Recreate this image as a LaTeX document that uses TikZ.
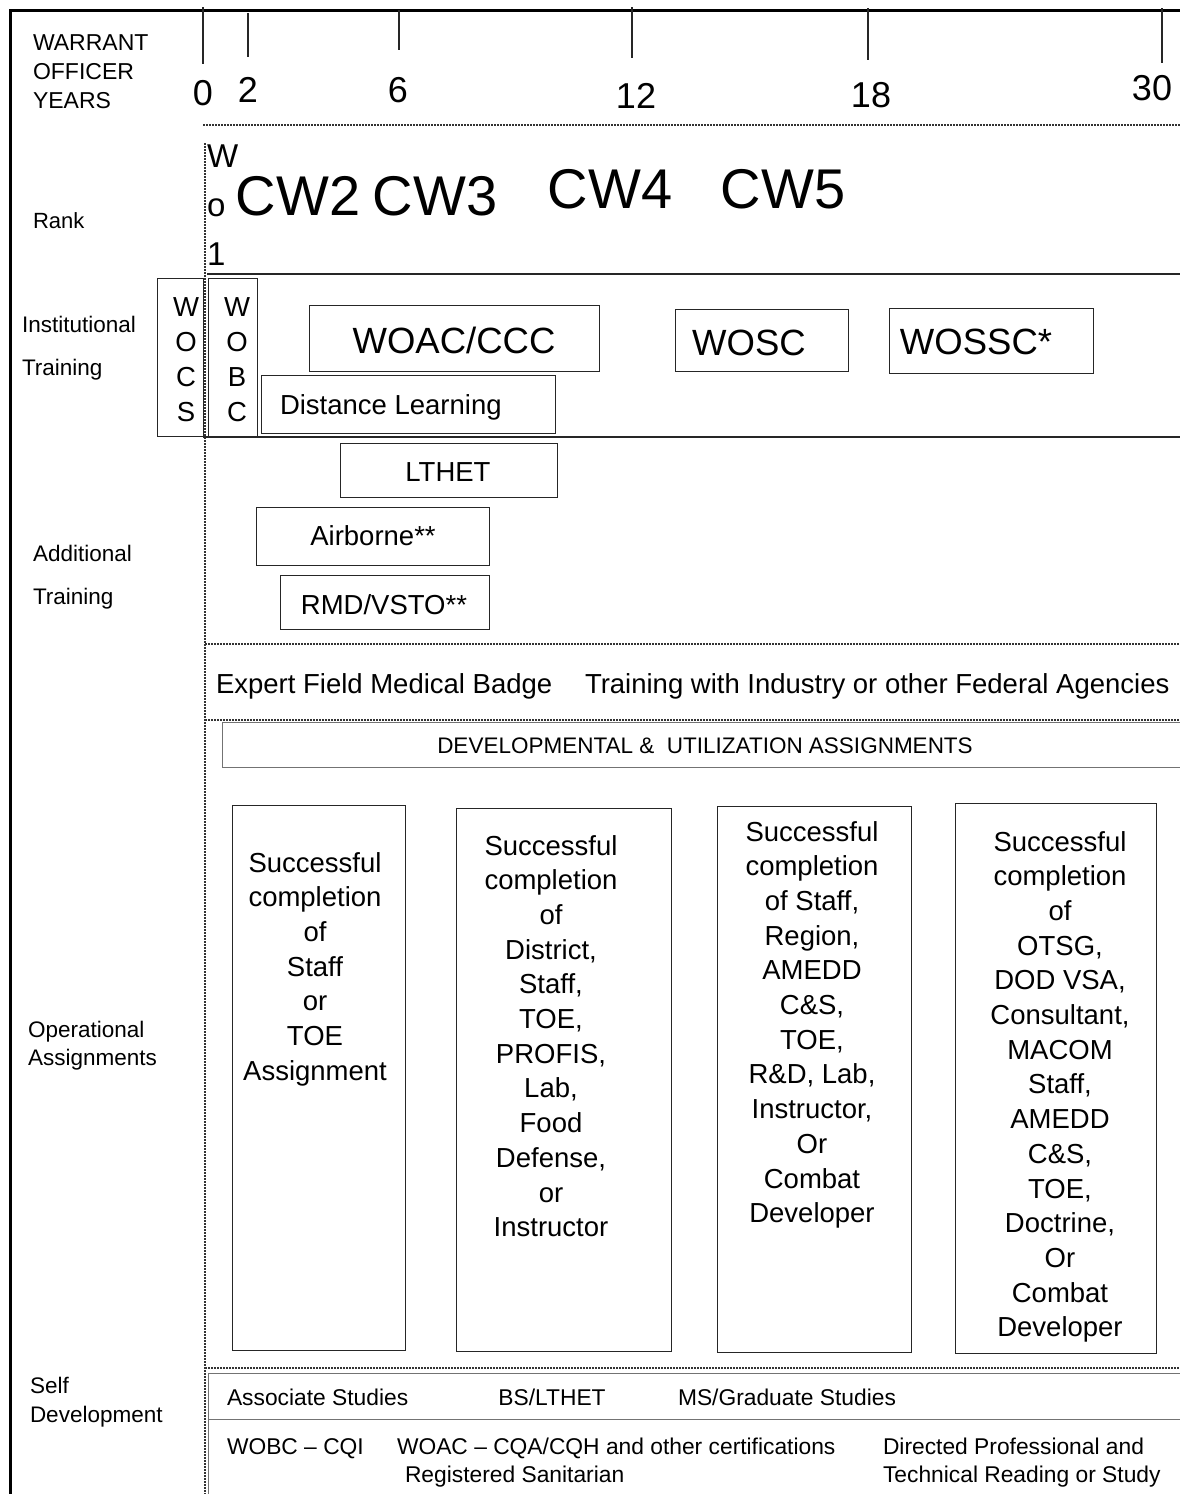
\documentclass[tikz,border=0pt]{standalone}
\usepackage{fontspec}
\setmainfont{Liberation Sans}
\newcommand{\myfs}[2]{\fontsize{#1}{#2}\selectfont}
\begin{document}
\begin{tikzpicture}[x=1pt,y=-1pt,
  txt/.style={inner sep=0pt, outer sep=0pt, text=black},
  side/.style={txt, anchor=base west, font=\myfs{22.5}{28}},
  mid/.style={txt, anchor=base, font=\myfs{27.5}{34.7}, align=center},
  bx/.style={draw=black!85, line width=1.3pt, anchor=north west, inner sep=0pt},
  dotl/.style={line width=1.6pt, dash pattern=on 1.5pt off 1.5pt, black!80},
  gline/.style={draw=black!55, line width=0.9pt},
  tick/.style={line width=1.2pt, black!85}]
\useasboundingbox (0,0) rectangle (1180,1494);
% frame
\draw[line width=3pt] (10,1494) -- (10,10) -- (1180,10);
% ticks and years
\coordinate (t0) at (203,64); \draw[tick] (203,7) -- (t0);
\coordinate (t2) at (248,57); \draw[tick] (248,13) -- (t2);
\coordinate (t6) at (399,50); \draw[tick] (399,10) -- (t6);
\coordinate (t12) at (632,58); \draw[tick] (632,7) -- (t12);
\coordinate (t18) at (868,60); \draw[tick] (868,8) -- (t18);
\coordinate (t30) at (1162,63); \draw[tick] (1162,8) -- (t30);
\node[txt, anchor=base, font=\myfs{36}{40}] (y0) at (203,105) {0};
\node[txt, anchor=base, font=\myfs{36}{40}] (y2) at (248,102) {2};
\node[txt, anchor=base, font=\myfs{36}{40}] (y6) at (398,102) {6};
\node[txt, anchor=base, font=\myfs{36}{40}] (y12) at (636,108) {12};
\node[txt, anchor=base, font=\myfs{36}{40}] (y18) at (871,107) {18};
\node[txt, anchor=base, font=\myfs{36}{40}] (y30) at (1152,100) {30};
\node[txt, anchor=base west, font=\myfs{23}{29}, align=left] (wo) at (33,108) {WARRANT\\OFFICER\\YEARS};
% dotted lines
\draw[dotl] (203,125) -- (1180,125);
\draw[dotl] (205,143) -- (205,1494);
\draw[dotl] (205,644) -- (1180,644);
\draw[dotl] (205,720) -- (1180,720);
\draw[dotl] (205,1368) -- (1180,1368);
% rank
\node[side, font=\myfs{22}{28}] (rank) at (33,228) {Rank};
\node[txt, anchor=base west, font=\myfs{33}{49}, align=left] (wo1) at (207,265) {W\\o\\1};
\node[txt, anchor=base, font=\myfs{56}{60}] (cw2) at (298,215) {CW2};
\node[txt, anchor=base, font=\myfs{56}{60}] (cw3) at (435,215) {CW3};
\node[txt, anchor=base, font=\myfs{56}{60}] (cw4) at (610,208) {CW4};
\node[txt, anchor=base, font=\myfs{56}{60}] (cw5) at (783,208) {CW5};
% institutional training
\draw[line width=1.3pt, black!85] (207,274) -- (1180,274);
\draw[line width=1.3pt, black!85] (203,437) -- (1180,437);
\node[side, align=left, font=\myfs{22.5}{43}] (inst) at (22,375) {Institutional\\Training};
\node[bx, minimum width=46pt, minimum height=158pt] (wocs) at (157,278) {};
\node[mid, font=\myfs{27.5}{35}] (wocst) at (186,421) {W\\O\\C\\S};
\node[bx, minimum width=49pt, minimum height=158pt] (wobc) at (208,278) {};
\node[mid, font=\myfs{27.5}{35}] (wobct) at (237,421) {W\\O\\B\\C};
\node[bx, minimum width=290pt, minimum height=66pt] (woac) at (309,305) {};
\node[txt, anchor=base, font=\myfs{36.5}{40}] (woact) at (454,353) {WOAC/CCC};
\node[bx, minimum width=173pt, minimum height=62pt] (wosc) at (675,309) {};
\node[txt, anchor=base, font=\myfs{36.5}{40}] (wosct) at (749,355) {WOSC};
\node[bx, minimum width=204pt, minimum height=65pt] (wossc) at (889,308) {};
\node[txt, anchor=base, font=\myfs{36.5}{40}] (wossct) at (976,354) {WOSSC*};
\node[bx, minimum width=294pt, minimum height=58pt] (dl) at (261,375) {};
\node[txt, anchor=base west, font=\myfs{27.5}{34}] (dlt) at (280,414) {Distance Learning};
% additional training
\node[side, align=left, font=\myfs{22.5}{43}] (addl) at (33,604) {Additional\\Training};
\node[bx, minimum width=217pt, minimum height=54pt] (lthet) at (340,443) {};
\node[mid] (lthett) at (448,481) {LTHET};
\node[bx, minimum width=233pt, minimum height=58pt] (airb) at (256,507) {};
\node[mid] (airbt) at (373,545) {Airborne**};
\node[bx, minimum width=209pt, minimum height=54pt] (rmd) at (280,575) {};
\node[mid] (rmdt) at (384,614) {RMD/VSTO**};
\node[txt, anchor=base west, font=\myfs{27.5}{34}] (efmb) at (216,693) {Expert Field Medical Badge};
\node[txt, anchor=base west, font=\myfs{27.5}{34}] (twi) at (585,693) {Training with Industry or other Federal Agencies};
% developmental
\draw[gline] (1180,722) -| (222,767) -- (1180,767);
\node[txt, anchor=base, font=\myfs{22.5}{28}] (dev) at (705,753) {DEVELOPMENTAL \&~ UTILIZATION ASSIGNMENTS};
% operational
\node[side, align=left, font=\myfs{22.5}{28}] (oper) at (28,1065) {Operational\\Assignments};
\node[bx, minimum width=173pt, minimum height=545pt] (op1) at (232,805) {};
\node[mid] (op1t) at (315,1080.2) {Successful\\completion\\of\\Staff\\or\\TOE\\Assignment};
\node[bx, minimum width=215pt, minimum height=543pt] (op2) at (456,808) {};
\node[mid] (op2t) at (551,1236.7) {Successful\\completion\\of\\District,\\Staff,\\TOE,\\PROFIS,\\Lab,\\Food\\Defense,\\or\\Instructor};
\node[bx, minimum width=194pt, minimum height=546pt] (op3) at (717,806) {};
\node[mid] (op3t) at (812,1222.7) {Successful\\completion\\of Staff,\\Region,\\AMEDD\\C\&S,\\TOE,\\R\&D, Lab,\\Instructor,\\Or\\Combat\\Developer};
\node[bx, minimum width=201pt, minimum height=550pt] (op4) at (955,803) {};
\node[mid] (op4t) at (1060,1336.8) {Successful\\completion\\of\\OTSG,\\DOD VSA,\\Consultant,\\MACOM\\Staff,\\AMEDD\\C\&S,\\TOE,\\Doctrine,\\Or\\Combat\\Developer};
% self development
\node[side, align=left, font=\myfs{22.5}{29}] (selfd) at (30,1422) {Self\\Development};
\draw[gline] (1180,1373) -- (208,1373) -- (208,1494);
\draw[gline] (208,1419) -- (1180,1419);
\node[txt, anchor=base west, font=\myfs{22.8}{28}] (assoc) at (227,1405) {Associate Studies};
\node[txt, anchor=base, font=\myfs{22.8}{28}] (bs) at (552,1405) {BS/LTHET};
\node[txt, anchor=base west, font=\myfs{22.8}{28}] (ms) at (678,1405) {MS/Graduate Studies};
\node[txt, anchor=base west, font=\myfs{22.8}{28}] (cqi) at (227,1454) {WOBC – CQI};
\node[txt, anchor=base west, font=\myfs{22.8}{28}] (cqa) at (397,1454) {WOAC – CQA/CQH and other certifications};
\node[txt, anchor=base west, font=\myfs{22.8}{28}] (rs) at (405,1482) {Registered Sanitarian};
\node[txt, anchor=base west, font=\myfs{22.8}{28}, align=left] (dir) at (883,1482) {Directed Professional and\\Technical Reading or Study};
\end{tikzpicture}
\end{document}
